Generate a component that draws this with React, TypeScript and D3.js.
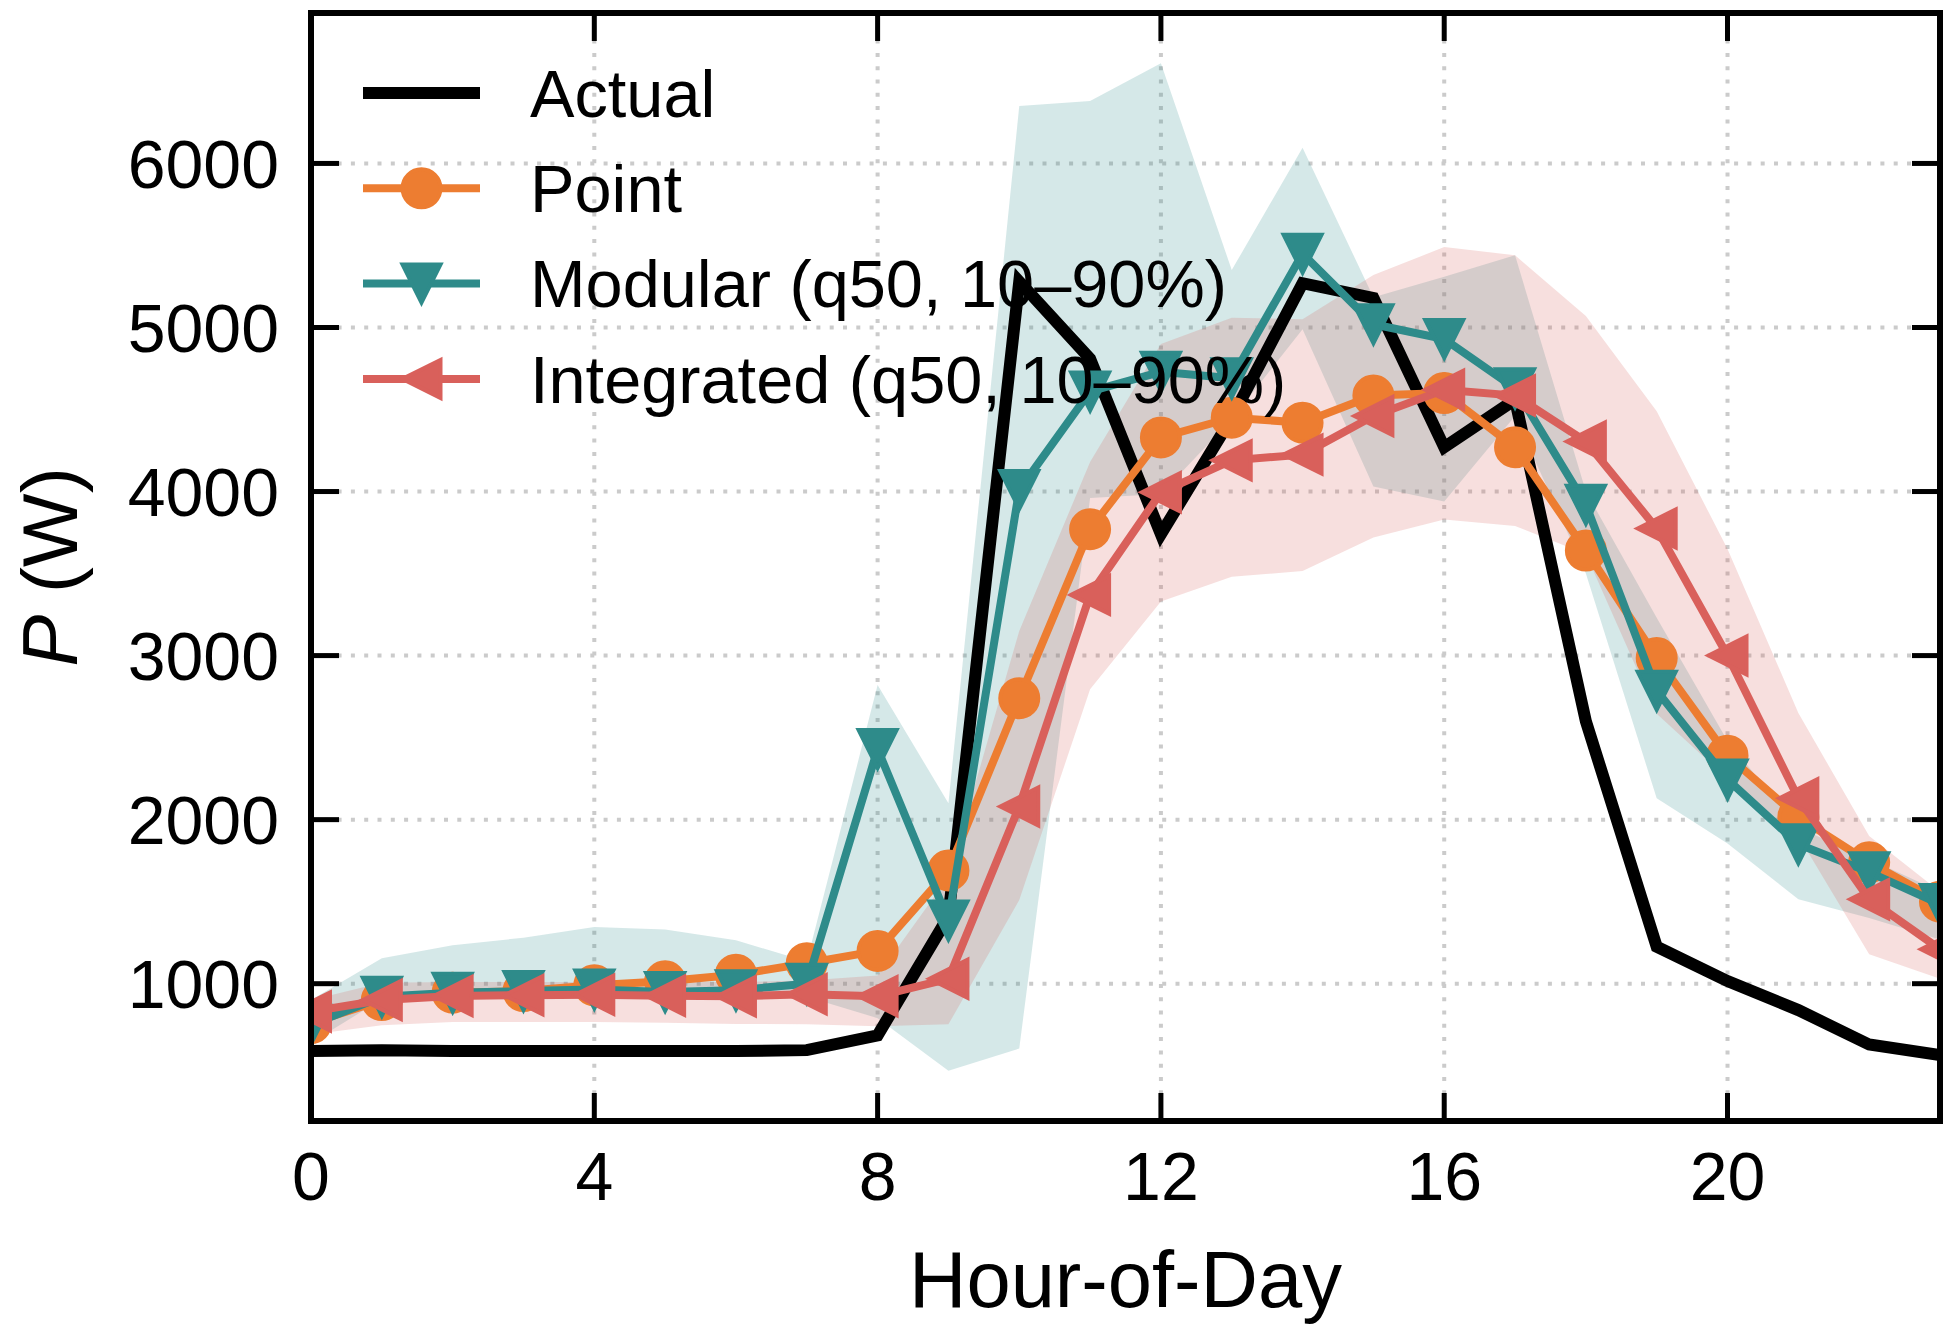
import * as d3 from 'd3';

const WIDTH = 1950;
const HEIGHT = 1336;
const PLOT = { left: 311, right: 1940, top: 13, bottom: 1121 };
const FONT = '"Liberation Sans", Arial, sans-serif';

// hour of day
const HOURS = [0, 1, 2, 3, 4, 5, 6, 7, 8, 9, 10, 11, 12, 13, 14, 15, 16, 17, 18, 19, 20, 21, 22, 23];

// measured power (W)
const ACTUAL = [590, 595, 590, 590, 590, 590, 590, 595, 685, 1410, 5280, 4810, 3740, 4450, 5270, 5180, 4270, 4560, 2600, 1226, 1016, 839, 629, 565];
// point forecast
const POINT = [760, 900, 945, 955, 990, 1015, 1055, 1125, 1200, 1690, 2740, 3770, 4330, 4450, 4420, 4585, 4600, 4270, 3640, 2985, 2390, 2015, 1740, 1500];
// modular model: median and 10-90% band
const MODULAR = [750, 920, 945, 955, 965, 950, 960, 1000, 2430, 1385, 4010, 4610, 4730, 4690, 5450, 5020, 4930, 4630, 3920, 2785, 2245, 1850, 1680, 1485];
const MODULAR_LO = [640, 905, 910, 915, 915, 915, 915, 920, 790, 470, 605, 3960, 3985, 4440, 4990, 4030, 3940, 4460, 3500, 2130, 1855, 1515, 1400, 1270];
const MODULAR_HI = [900, 1155, 1235, 1280, 1345, 1330, 1265, 1135, 2820, 2100, 6350, 6380, 6610, 5350, 6095, 5185, 5310, 5440, 4000, 3230, 2480, 1950, 1760, 1560];
// integrated model: median and 10-90% band
const INTEGRATED = [830, 900, 925, 930, 933, 927, 923, 936, 924, 1030, 2080, 3370, 3995, 4190, 4225, 4460, 4620, 4585, 4305, 3775, 3000, 2130, 1515, 1210];
const INTEGRATED_LO = [690, 746, 766, 766, 766, 762, 755, 752, 741, 752, 1510, 2795, 3330, 3480, 3515, 3720, 3830, 3790, 3620, 2645, 2250, 1900, 1180, 1030];
const INTEGRATED_HI = [900, 1005, 1010, 1010, 1010, 1010, 1010, 1020, 1050, 1650, 3150, 4180, 4900, 5060, 5050, 5320, 5490, 5440, 5070, 4490, 3650, 2650, 1900, 1560];

const X_TICKS = [0, 4, 8, 12, 16, 20];
const Y_TICKS = [1000, 2000, 3000, 4000, 5000, 6000];

const BLACK = '#000000';
const ORANGE = '#ED7D31';
const TEAL = '#2E8B8A';
const RED = '#D9605B';
const GRID = '#cbcbcb';

const MS = 19; // half marker size
const markerPaths: Record<string, string> = {
  circle: `M${-MS},0A${MS},${MS} 0 1,0 ${MS},0A${MS},${MS} 0 1,0 ${-MS},0Z`,
  down: `M0,${MS}L${-MS},${-MS}L${MS},${-MS}Z`,
  left: `M${-MS},0L${MS},${-MS}L${MS},${MS}Z`,
};

const all = [...ACTUAL, ...POINT, ...MODULAR_LO, ...MODULAR_HI, ...INTEGRATED_LO, ...INTEGRATED_HI];
const yLo = d3.min(all) as number;
const yHi = d3.max(all) as number;
const pad = (yHi - yLo) * 0.05;

const x = d3.scaleLinear().domain([0, 23]).range([PLOT.left, PLOT.right]);
const y = d3.scaleLinear().domain([yLo - pad, yHi + pad]).range([PLOT.bottom, PLOT.top]);

const line = d3
  .line<number>()
  .x((_, i) => x(HOURS[i]))
  .y((d) => y(d));

function band(lo: number[], hi: number[]) {
  return d3
    .area<number>()
    .x((_, i) => x(HOURS[i]))
    .y0((_, i) => y(lo[i]))
    .y1((_, i) => y(hi[i]))(HOURS) as string;
}

const SERIES = [
  { label: 'Actual', values: ACTUAL, color: BLACK, width: 12, marker: null },
  { label: 'Point', values: POINT, color: ORANGE, width: 8, marker: 'circle' },
  { label: 'Modular (q50, 10–90%)', values: MODULAR, color: TEAL, width: 8, marker: 'down' },
  { label: 'Integrated (q50, 10–90%)', values: INTEGRATED, color: RED, width: 8, marker: 'left' },
];

const LEGEND = { x0: 363, x1: 480, textX: 530, y0: 93, step: 95.3 };

export default function App() {
  const tickLen = 28;
  return (
    <svg
      width={WIDTH}
      height={HEIGHT}
      viewBox={`0 0 ${WIDTH} ${HEIGHT}`}
      style={{ position: 'absolute', left: 0, top: 0, background: '#fff' }}
      fontFamily={FONT}
    >
      <defs>
        <clipPath id="plot-clip">
          <rect x={PLOT.left} y={PLOT.top} width={PLOT.right - PLOT.left} height={PLOT.bottom - PLOT.top} />
        </clipPath>
      </defs>

      {/* grid */}
      <g stroke={GRID} strokeWidth={4} strokeDasharray="4 9.3">
        {X_TICKS.map((t) => (
          <line key={`gx${t}`} x1={x(t)} x2={x(t)} y1={PLOT.top} y2={PLOT.bottom} />
        ))}
        {Y_TICKS.map((t) => (
          <line key={`gy${t}`} x1={PLOT.left} x2={PLOT.right} y1={y(t)} y2={y(t)} />
        ))}
      </g>

      <g clipPath="url(#plot-clip)">
        {/* quantile bands */}
        <path d={band(MODULAR_LO, MODULAR_HI)} fill={TEAL} fillOpacity={0.2} />
        <path d={band(INTEGRATED_LO, INTEGRATED_HI)} fill={RED} fillOpacity={0.2} />

        {SERIES.map((s) => (
          <g key={s.label}>
            <path d={line(s.values) as string} fill="none" stroke={s.color} strokeWidth={s.width} strokeLinejoin="miter" />
            {s.marker &&
              s.values.map((v, i) => (
                <path
                  key={i}
                  transform={`translate(${x(HOURS[i])},${y(v)})`}
                  d={markerPaths[s.marker as string]}
                  fill={s.color}
                  stroke={s.color}
                  strokeWidth={4}
                />
              ))}
          </g>
        ))}
      </g>

      {/* spines and inward ticks */}
      <rect
        x={PLOT.left}
        y={PLOT.top}
        width={PLOT.right - PLOT.left}
        height={PLOT.bottom - PLOT.top}
        fill="none"
        stroke="#000"
        strokeWidth={6}
      />
      <g stroke="#000" strokeWidth={5}>
        {X_TICKS.map((t) => (
          <g key={`tx${t}`}>
            <line x1={x(t)} x2={x(t)} y1={PLOT.bottom} y2={PLOT.bottom - tickLen} />
            <line x1={x(t)} x2={x(t)} y1={PLOT.top} y2={PLOT.top + tickLen} />
          </g>
        ))}
        {Y_TICKS.map((t) => (
          <g key={`ty${t}`}>
            <line x1={PLOT.left} x2={PLOT.left + tickLen} y1={y(t)} y2={y(t)} />
            <line x1={PLOT.right} x2={PLOT.right - tickLen} y1={y(t)} y2={y(t)} />
          </g>
        ))}
      </g>

      {/* tick labels */}
      <g fontSize={68} fill="#000">
        {X_TICKS.map((t) => (
          <text key={`lx${t}`} x={x(t)} y={1200} textAnchor="middle">
            {t}
          </text>
        ))}
        {Y_TICKS.map((t) => (
          <text key={`ly${t}`} x={279} y={y(t)} dy="0.355em" textAnchor="end">
            {t}
          </text>
        ))}
      </g>

      {/* axis titles */}
      <text x={(PLOT.left + PLOT.right) / 2} y={1307} fontSize={79.5} textAnchor="middle">
        Hour-of-Day
      </text>
      <text transform={`translate(77,${(PLOT.top + PLOT.bottom) / 2}) rotate(-90)`} fontSize={78} textAnchor="middle">
        <tspan fontStyle="italic">P</tspan> (W)
      </text>

      {/* legend */}
      <g>
        {SERIES.map((s, i) => {
          const ly = LEGEND.y0 + i * LEGEND.step;
          const cx = (LEGEND.x0 + LEGEND.x1) / 2;
          return (
            <g key={`lg${i}`}>
              <line x1={LEGEND.x0} x2={LEGEND.x1} y1={ly} y2={ly} stroke={s.color} strokeWidth={s.width} />
              {s.marker && (
                <path
                  transform={`translate(${cx},${ly})`}
                  d={markerPaths[s.marker as string]}
                  fill={s.color}
                  stroke={s.color}
                  strokeWidth={4}
                />
              )}
              <text x={LEGEND.textX} y={ly} dy="0.355em" fontSize={66.7}>
                {s.label}
              </text>
            </g>
          );
        })}
      </g>
    </svg>
  );
}
